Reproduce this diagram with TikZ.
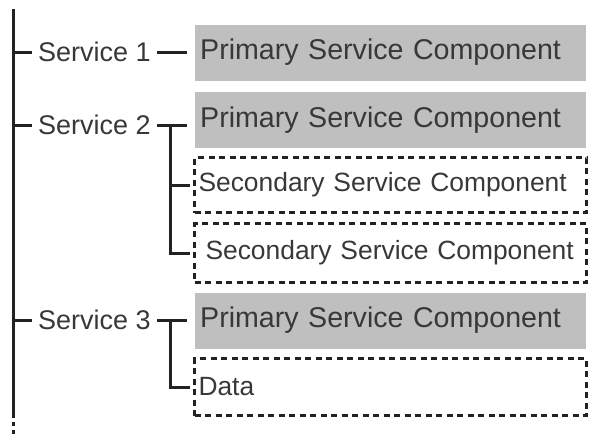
\documentclass[tikz,border=0pt]{standalone}
\usepackage{fontspec}
\setmainfont{Liberation Sans}
\usepackage{xcolor}
\definecolor{boxgray}{HTML}{BFBFBF}
\definecolor{textgray}{HTML}{383838}
\definecolor{linegray}{HTML}{222222}
\tikzset{
  tree/.style={draw=linegray, line width=3pt},
  service/.style={text=textgray, font=\fontsize{27}{30}\selectfont, inner sep=0pt, anchor=west},
  primary/.style={fill=boxgray, text=textgray, font=\fontsize{28.6}{31}\selectfont,
    minimum width=391pt, minimum height=56pt, inner sep=5pt, anchor=west, align=left, text width=381pt},
  secondary/.style={draw=linegray, line width=3pt, dash pattern=on 6pt off 4.5pt, text=textgray,
    font=\fontsize{26.4}{30}\selectfont, minimum width=392pt, inner sep=4pt, anchor=west, text width=384pt}
}

\begin{document}
\begin{tikzpicture}[x=1pt,y=-1pt]
  \useasboundingbox (0,0) rectangle (592,440);
  % main line
  \coordinate (top) at (13,9);
  \coordinate (bot) at (13,418);
  \draw[tree] (top) -- (bot);
  \draw[draw=linegray, line width=3pt, dash pattern=on 3.5pt off 4.5pt] (13,422) -- (13,437);
  % services
  \node[service] (s1) at (38,52) {Service 1};
  \node[service] (s2) at (38,125) {Service 2};
  \node[service] (s3) at (38,320) {Service 3};
  % components
  \node[primary] (p1) at (195,52.5) {Primary Service Component};
  \node[primary] (p2) at (195,120) {Primary Service Component};
  \node[secondary, minimum height=55pt] (c1) at (193,185) {Secondary Service Component};
  \node[secondary, minimum height=59pt] (c2) at (193,253) {\hspace{7pt}Secondary Service Component};
  \node[primary] (p3) at (195,320.5) {Primary Service Component};
  \node[secondary, minimum height=57pt] (d) at (193,387) {Data};
  % branches
  \draw[tree, shorten >=6pt] (top |- s1.west) -- (s1.west);
  \draw[tree, shorten >=6pt] (top |- s2.west) -- (s2.west);
  \draw[tree, shorten >=6pt] (top |- s3.west) -- (s3.west);
  \draw[tree, shorten <=6pt, shorten >=8pt] (s1.east) -- (s1.east -| p1.west);
  \draw[tree, shorten <=6pt, shorten >=8pt] (s2.east) -- (s2.east -| p2.west);
  \draw[tree, shorten <=6pt, shorten >=8pt] (s3.east) -- (s3.east -| p3.west);
  \coordinate (j2) at (170,125);
  \coordinate (j3) at (170,320);
  \draw[tree, shorten >=3pt] (j2) |- (c2.west);
  \draw[tree, shorten >=3pt] (j2 |- c1.west) -- (c1.west);
  \draw[tree, shorten >=3pt] (j3) |- (d.west);
\end{tikzpicture}
\end{document}
